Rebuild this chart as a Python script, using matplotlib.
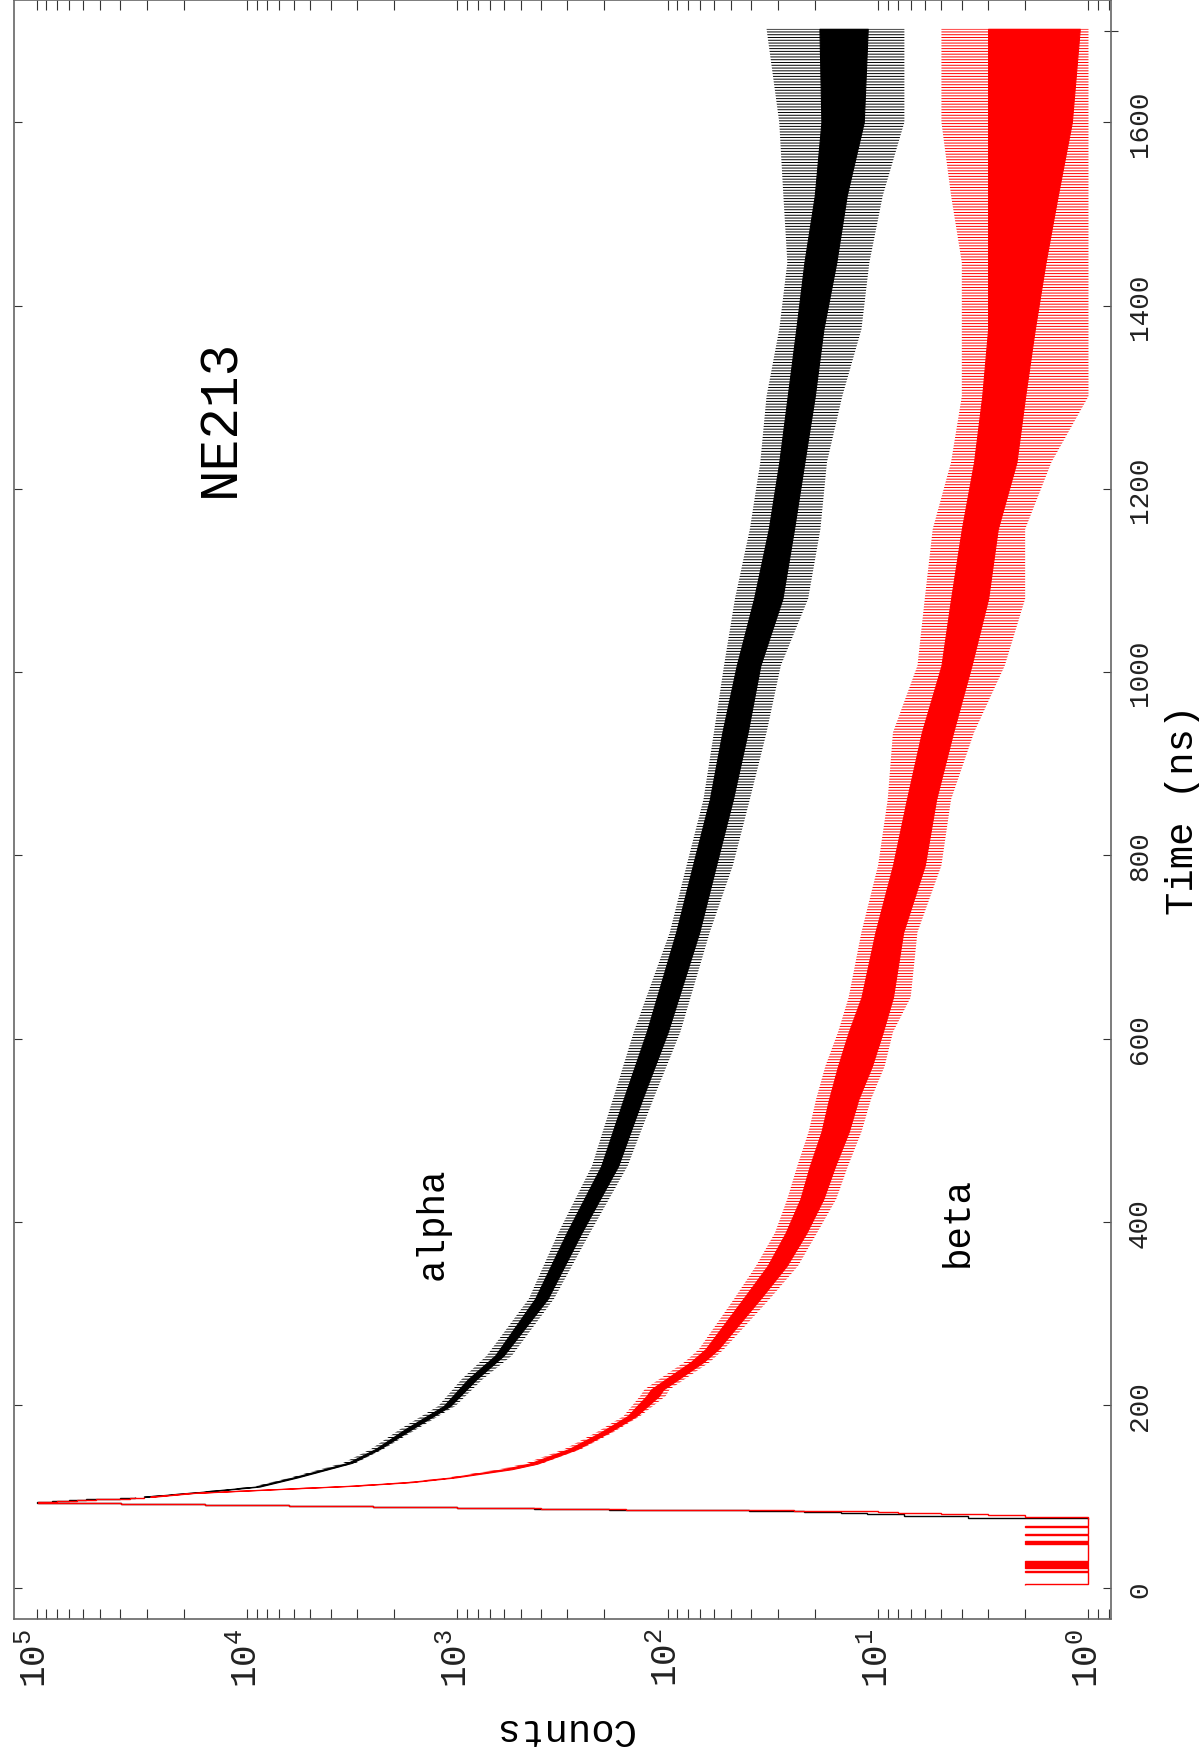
import numpy as np
import matplotlib
matplotlib.use("Agg")
import matplotlib.pyplot as plt
from matplotlib.ticker import LogLocator, FixedLocator, NullFormatter, FuncFormatter

# fonts: thin typewriter look
plt.rcParams['font.family'] = ['Liberation Mono', 'DejaVu Sans']
plt.rcParams['mathtext.fontset'] = 'custom'
plt.rcParams['mathtext.rm'] = 'Liberation Mono'
plt.rcParams['mathtext.it'] = 'Liberation Mono'
plt.rcParams['hatch.linewidth'] = 0.7

# ---- data ----
# 1 ns bins around the prompt peak
alpha_peak_start = 76
alpha_peak = [1, 3.75, 3.75, 7.5, 7.5, 11.25, 15, 22.5, 41, 86, 190, 430,
              1000, 2510, 6310, 15800, 39800, 100000, 84000, 70000, 58000,
              48000, 40000, 34000]

beta_peak_start = 4
beta_peak = [2, 1, 1, 1, 1, 1, 1, 1, 1, 1,
             1, 1, 1, 1, 2, 1, 1, 1, 2, 1,
             2, 1, 1, 2, 1, 2, 1, 1, 1, 1,
             1, 1, 1, 1, 1, 1, 1, 1, 1, 1,
             1, 1, 1, 1, 2, 1, 1, 2, 1, 1,
             1, 1, 1, 1, 2, 1, 1, 1, 1, 1,
             1, 1, 1, 2, 1, 1, 1, 1, 1, 1,
             1, 1, 1, 1, 2, 2, 3, 5, 8, 10,
             25, 63, 158, 398, 1000, 2510, 6310, 15800, 39800, 98000,
             80000, 64000, 52000, 43000, 36000, 31000]

# decay tail: dense core of the noisy trace and the reach of its spikes
t_alpha = [100, 105, 111, 121, 137, 152, 174, 199, 228, 254, 316, 388, 461,
           534, 607, 716, 789, 861, 934, 1007, 1080, 1156, 1229, 1301, 1374,
           1447, 1520, 1600, 1702]
alpha_core_lo = [29500, 16200, 8710, 5750, 3160, 2340, 1640, 1080, 813, 603,
                 372, 257, 172, 132, 100, 70.8, 58.9, 49.0, 41.7, 36.3, 28.5,
                 25.1, 22.4, 20.0, 18.2, 15.8, 14.1, 11.7, 11.2]
alpha_core_hi = [30900, 17000, 9120, 6030, 3310, 2450, 1760, 1160, 891, 661,
                 427, 302, 207, 162, 126, 91.2, 75.9, 63.1, 55.0, 47.0, 38.9,
                 33.1, 29.5, 26.9, 24.5, 22.4, 20.0, 18.6, 19.0]
alpha_spike_lo = [28800, 15800, 8510, 5620, 3020, 2240, 1550, 1020, 759, 550,
                  347, 234, 155, 117, 87.1, 63.1, 49.0, 40.7, 33.9, 29.0, 21.5,
                  18.8, 17.5, 14.8, 12.0, 11.0, 9.5, 7.5, 7.5]
alpha_spike_hi = [31600, 17400, 9330, 6170, 3470, 2570, 1860, 1230, 955, 724,
                  457, 331, 229, 182, 145, 97.7, 81.3, 67.6, 60.3, 54.0, 47.9,
                  40.7, 36.3, 33.9, 29.5, 27.0, 28.2, 29.5, 33.9]

t_beta = [100, 104, 108, 112, 116, 121, 130, 136, 152, 170, 188, 210, 217,
          225, 247, 261, 316, 352, 388, 425, 461, 498, 534, 570, 607, 645,
          716, 789, 861, 934, 1007, 1080, 1156, 1229, 1301, 1374, 1447, 1520,
          1600, 1702]
beta_core_lo = [27500, 17800, 7410, 3020, 1620, 1020, 550, 417, 269, 191, 141,
                110, 105, 93.3, 67.6, 57.5, 36.3, 27.2, 21.9, 18.2, 16.0, 13.8,
                12.4, 10.7, 9.5, 8.5, 7.6, 6.0, 5.3, 4.4, 3.6, 3.0, 2.7, 2.2,
                2.0, 1.8, 1.6, 1.4, 1.2, 1.1]
beta_core_hi = [28800, 18600, 7760, 3160, 1700, 1070, 603, 457, 295, 209, 155,
                126, 120, 107, 77.6, 66.1, 43.7, 33.5, 27.5, 23.4, 21.1, 18.6,
                17.1, 15.5, 13.8, 12.0, 10.3, 8.5, 7.3, 6.2, 5.0, 4.5, 4.0, 3.5,
                3.2, 3.0, 3.0, 3.0, 3.0, 3.0]
beta_spike_lo = [27000, 17400, 7250, 2950, 1580, 990, 525, 398, 257, 182, 135,
                 102, 98, 87, 63, 54, 32.7, 24, 19.5, 15.8, 13.9, 12, 10.8, 9.3,
                 8.5, 7.0, 6.5, 5, 4.5, 3.5, 2.5, 2, 2, 1.5, 1, 1, 1, 1, 1, 1]
beta_spike_hi = [29400, 19000, 7940, 3240, 1740, 1100, 631, 479, 309, 219, 162,
                 135, 129, 115, 83, 71, 48.3, 38, 30.9, 27, 24.2, 21.4, 19.7,
                 17.8, 15.5, 13.8, 12.0, 10, 9, 8.5, 6.5, 6, 5.5, 4.5, 4, 4,
                 4, 4.5, 5, 5]

time_ticks = [0, 200, 400, 600, 800, 1000, 1200, 1400, 1600]


def draw_trace(start, values, t, core_lo, core_hi, spike_lo, spike_hi, col):
    '''prompt part as 1 ns stairs, tail as a spike band plus a solid core'''
    edges = np.arange(start, start + len(values) + 1)
    ax.stairs(values, edges, orientation='horizontal', baseline=None,
              color=col, linewidth=1.0)
    ax.fill_betweenx(t, spike_lo, spike_hi, facecolor='none', edgecolor=col,
                     hatch='------', linewidth=0)
    ax.fill_betweenx(t, core_lo, core_hi, facecolor=col, edgecolor=col,
                     linewidth=0.8)


fig = plt.figure(figsize=(11.99, 17.58), dpi=100)
ax = fig.add_axes([14 / 1199, 1 - 1620 / 1758, 1097 / 1199, 1619.5 / 1758])

draw_trace(alpha_peak_start, alpha_peak, t_alpha, alpha_core_lo,
           alpha_core_hi, alpha_spike_lo, alpha_spike_hi, 'black')
draw_trace(beta_peak_start, beta_peak, t_beta, beta_core_lo, beta_core_hi,
           beta_spike_lo, beta_spike_hi, 'red')

# the plot is a landscape page turned on its side
ax.set_xscale('log')
ax.set_xlim(10 ** 5.107, 10 ** -0.107)
ax.set_ylim(-33.5, 1734)

ax.xaxis.set_major_locator(LogLocator(base=10, numticks=10))
ax.xaxis.set_minor_locator(LogLocator(base=10, subs=np.arange(2, 10),
                                      numticks=20))
ax.xaxis.set_minor_formatter(NullFormatter())
ax.xaxis.set_major_formatter(
    FuncFormatter(lambda v, p: '$10^{%d}$' % int(round(np.log10(v)))))
ax.tick_params(axis='x', which='both', direction='in', top=True, bottom=True,
               length=7.2, width=0.8, color='#333333', labelsize=26,
               labelrotation=90, pad=6, labelcolor='#222222')

ax.set_yticks(time_ticks)
ax.yaxis.set_minor_locator(FixedLocator([1700]))
ax.tick_params(axis='y', which='major', direction='in', left=True, right=True,
               labelleft=False, labelright=True, length=5.8, width=0.8,
               color='#333333', labelsize=20, labelrotation=90, pad=11.5,
               labelcolor='#222222')
ax.tick_params(axis='y', which='minor', direction='inout', left=False,
               right=True, length=10, width=0.8, color='#333333')
plt.setp(ax.get_yticklabels(), va='center')

for s in ax.spines.values():
    s.set_color('#666666')
    s.set_linewidth(1.2)

ax.set_xlabel('Counts', rotation=180, fontsize=28, va='center')
ax.xaxis.set_label_coords(0.5, -0.0673)
ax.yaxis.set_label_position('right')
ax.set_ylabel('Time (ns)', rotation=90, fontsize=28, va='center', ha='center')
ax.yaxis.set_label_coords(1.0657, 0.5)

ax.text(13400, 1278, 'NE213', rotation=90, fontsize=38, ha='center',
        va='center')
ax.text(1306, 399, 'alpha', rotation=90, fontsize=27, ha='center',
        va='center')
ax.text(4.16, 401, 'beta', rotation=90, fontsize=27, ha='center',
        va='center')

fig.savefig('out.png', dpi=100)
